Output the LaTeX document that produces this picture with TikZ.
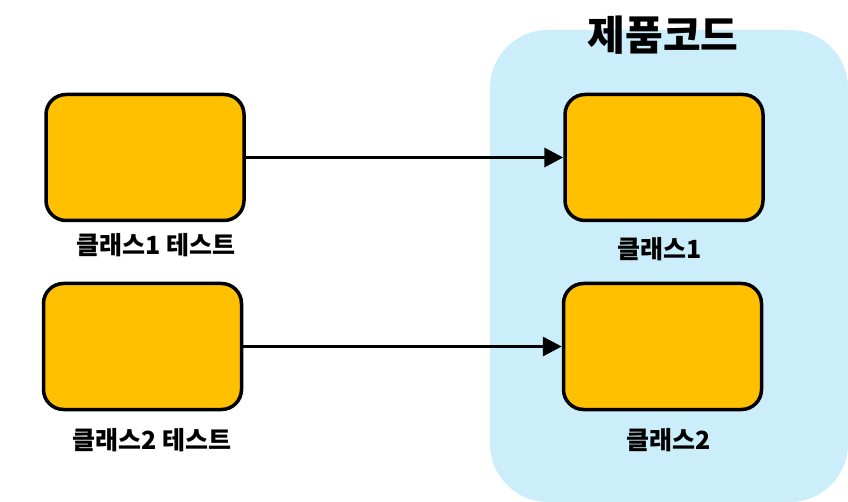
\documentclass[tikz,border=0pt]{standalone}
\usepackage{fontspec}
\setmainfont{Noto Sans CJK KR}
\usetikzlibrary{arrows.meta}
\definecolor{zone}{HTML}{CCEEFA}
\definecolor{amber}{HTML}{FFC000}
\tikzset{
  cls/.style={draw=black, line width=3.5pt, fill=amber, rounded corners=20pt, minimum width=198pt, minimum height=126pt, inner sep=0pt},
  lbl/.style={font=\fontsize{25}{29}\selectfont\bfseries, inner sep=0pt},
  conn/.style={line width=3.5pt, -{Triangle[length=19pt,width=19pt]}}
}
\begin{document}
\begin{tikzpicture}[x=1pt,y=-1pt]
\useasboundingbox (0,0) rectangle (848,502);
\fill[zone, rounded corners=58pt] (490,30) rectangle (848,502);
\node[font=\fontsize{41}{48}\selectfont\bfseries, inner sep=0pt] (title) at (663,35) {제품코드};
\node[cls] (t1) at (145,157.5) {};
\node[cls] (t2) at (142.5,346.5) {};
\node[cls] (c1) at (664,157.5) {};
\node[cls] (c2) at (662.5,346.5) {};
\node[lbl] (l1) at (156,245) {클래스1 테스트};
\node[lbl] (l2) at (152,440) {클래스2 테스트};
\node[lbl] (l3) at (660,249) {클래스1};
\node[lbl] (l4) at (669,440) {클래스2};
\draw[conn] (t1.east) -- (c1.west);
\draw[conn] (t2.east) -- (c2.west);
\end{tikzpicture}
\end{document}
